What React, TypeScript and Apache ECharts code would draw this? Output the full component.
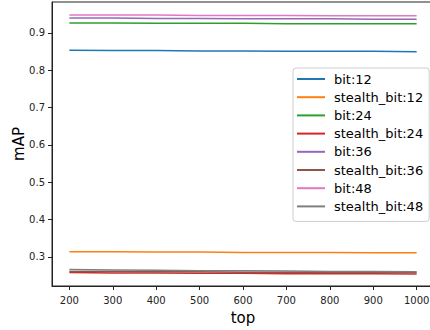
import React, { useEffect, useRef } from "react";
import * as echarts from "echarts";

const tops = [200, 300, 400, 500, 600, 700, 800, 900, 1000];
const seriesNames = [
  "bit:12",
  "stealth_bit:12",
  "bit:24",
  "stealth_bit:24",
  "bit:36",
  "stealth_bit:36",
  "bit:48",
  "stealth_bit:48",
];
const bit12 = [0.854, 0.853, 0.853, 0.852, 0.852, 0.851, 0.851, 0.851, 0.85];
const stealth12 = [0.314, 0.314, 0.313, 0.313, 0.312, 0.312, 0.312, 0.311, 0.311];
const bit24 = [0.927, 0.927, 0.926, 0.926, 0.926, 0.925, 0.925, 0.925, 0.925];
const stealth24 = [0.258, 0.257, 0.257, 0.256, 0.256, 0.255, 0.255, 0.255, 0.254];
const bit36 = [0.94, 0.94, 0.939, 0.939, 0.938, 0.938, 0.938, 0.937, 0.937];
const stealth36 = [0.261, 0.261, 0.26, 0.26, 0.259, 0.259, 0.258, 0.258, 0.258];
const bit48 = [0.948, 0.948, 0.948, 0.947, 0.947, 0.947, 0.946, 0.946, 0.946];
const stealth48 = [0.266, 0.265, 0.264, 0.263, 0.263, 0.262, 0.261, 0.261, 0.26];
const allValues = [bit12, stealth12, bit24, stealth24, bit36, stealth36, bit48, stealth48];
const colors = ["#1f77b4", "#ff7f0e", "#2ca02c", "#d62728", "#9467bd", "#8c564b", "#e377c2", "#7f7f7f"];
const xTicks = [200, 300, 400, 500, 600, 700, 800, 900, 1000];
const yTicks = [0.3, 0.4, 0.5, 0.6, 0.7, 0.8, 0.9];

const FONT = "DejaVu Sans";

export default function App() {
  const ref = useRef<HTMLDivElement>(null);
  useEffect(() => {
    document.body.style.margin = "0";
    const chart = echarts.init(ref.current!, null, { renderer: "svg" });
    const axisCommon = {
      axisLine: { show: true, lineStyle: { color: "#222", width: 1 } },
      axisTick: { show: true, length: 4, lineStyle: { color: "#222", width: 1 } },
      splitLine: { show: false },
    };
    chart.setOption({
      animation: false,
      color: colors,
      grid: {
        left: 52,
        top: 2,
        width: 382,
        height: 284,
        outerBoundsMode: "none",
        containLabel: false,
        show: true,
        borderColor: "#222",
        borderWidth: 1,
        backgroundColor: "transparent",
      },
      xAxis: {
        type: "value",
        min: 160,
        max: 1040,
        ...axisCommon,
        axisTick: { ...axisCommon.axisTick, customValues: xTicks },
        axisLabel: {
          customValues: xTicks,
          formatter: (v: number) => String(v),
          fontFamily: FONT,
          fontSize: 10,
          color: "#222",
          margin: 9,
        },
        name: "top",
        nameLocation: "middle",
        nameGap: 24,
        nameTextStyle: { fontFamily: FONT, fontSize: 15, color: "#000" },
      },
      yAxis: {
        type: "value",
        min: 0.222,
        max: 0.983,
        ...axisCommon,
        axisTick: { ...axisCommon.axisTick, customValues: yTicks },
        axisLabel: {
          customValues: yTicks,
          formatter: (v: number) => v.toFixed(1),
          fontFamily: FONT,
          fontSize: 10,
          color: "#222",
          margin: 7,
        },
        name: "mAP",
        nameLocation: "middle",
        nameGap: 26,
        nameMoveOverlap: false,
        nameTextStyle: { fontFamily: FONT, fontSize: 15, color: "#000" },
      },
      legend: {
        orient: "vertical",
        left: 293,
        top: 68,
        icon: "rect",
        itemWidth: 28,
        itemHeight: 2,
        itemGap: 0.2,
        padding: [2, 6, 6, 4],
        borderColor: "#ccc",
        borderWidth: 1,
        borderRadius: 3,
        backgroundColor: "rgba(255,255,255,0.8)",
        textStyle: {
          fontFamily: FONT,
          fontSize: 13,
          color: "#000",
          lineHeight: 18,
          padding: [0, 0, 0, 4],
        },
        data: seriesNames,
      },
      series: seriesNames.map((name, i) => ({
        name,
        type: "line",
        symbol: "none",
        showSymbol: false,
        lineStyle: { width: 1.5, color: colors[i] },
        itemStyle: { color: colors[i] },
        data: tops.map((t, j) => [t, allValues[i][j]]),
      })),
    });
    return () => chart.dispose();
  }, []);
  return <div ref={ref} style={{ width: 430, height: 330 }} />;
}
